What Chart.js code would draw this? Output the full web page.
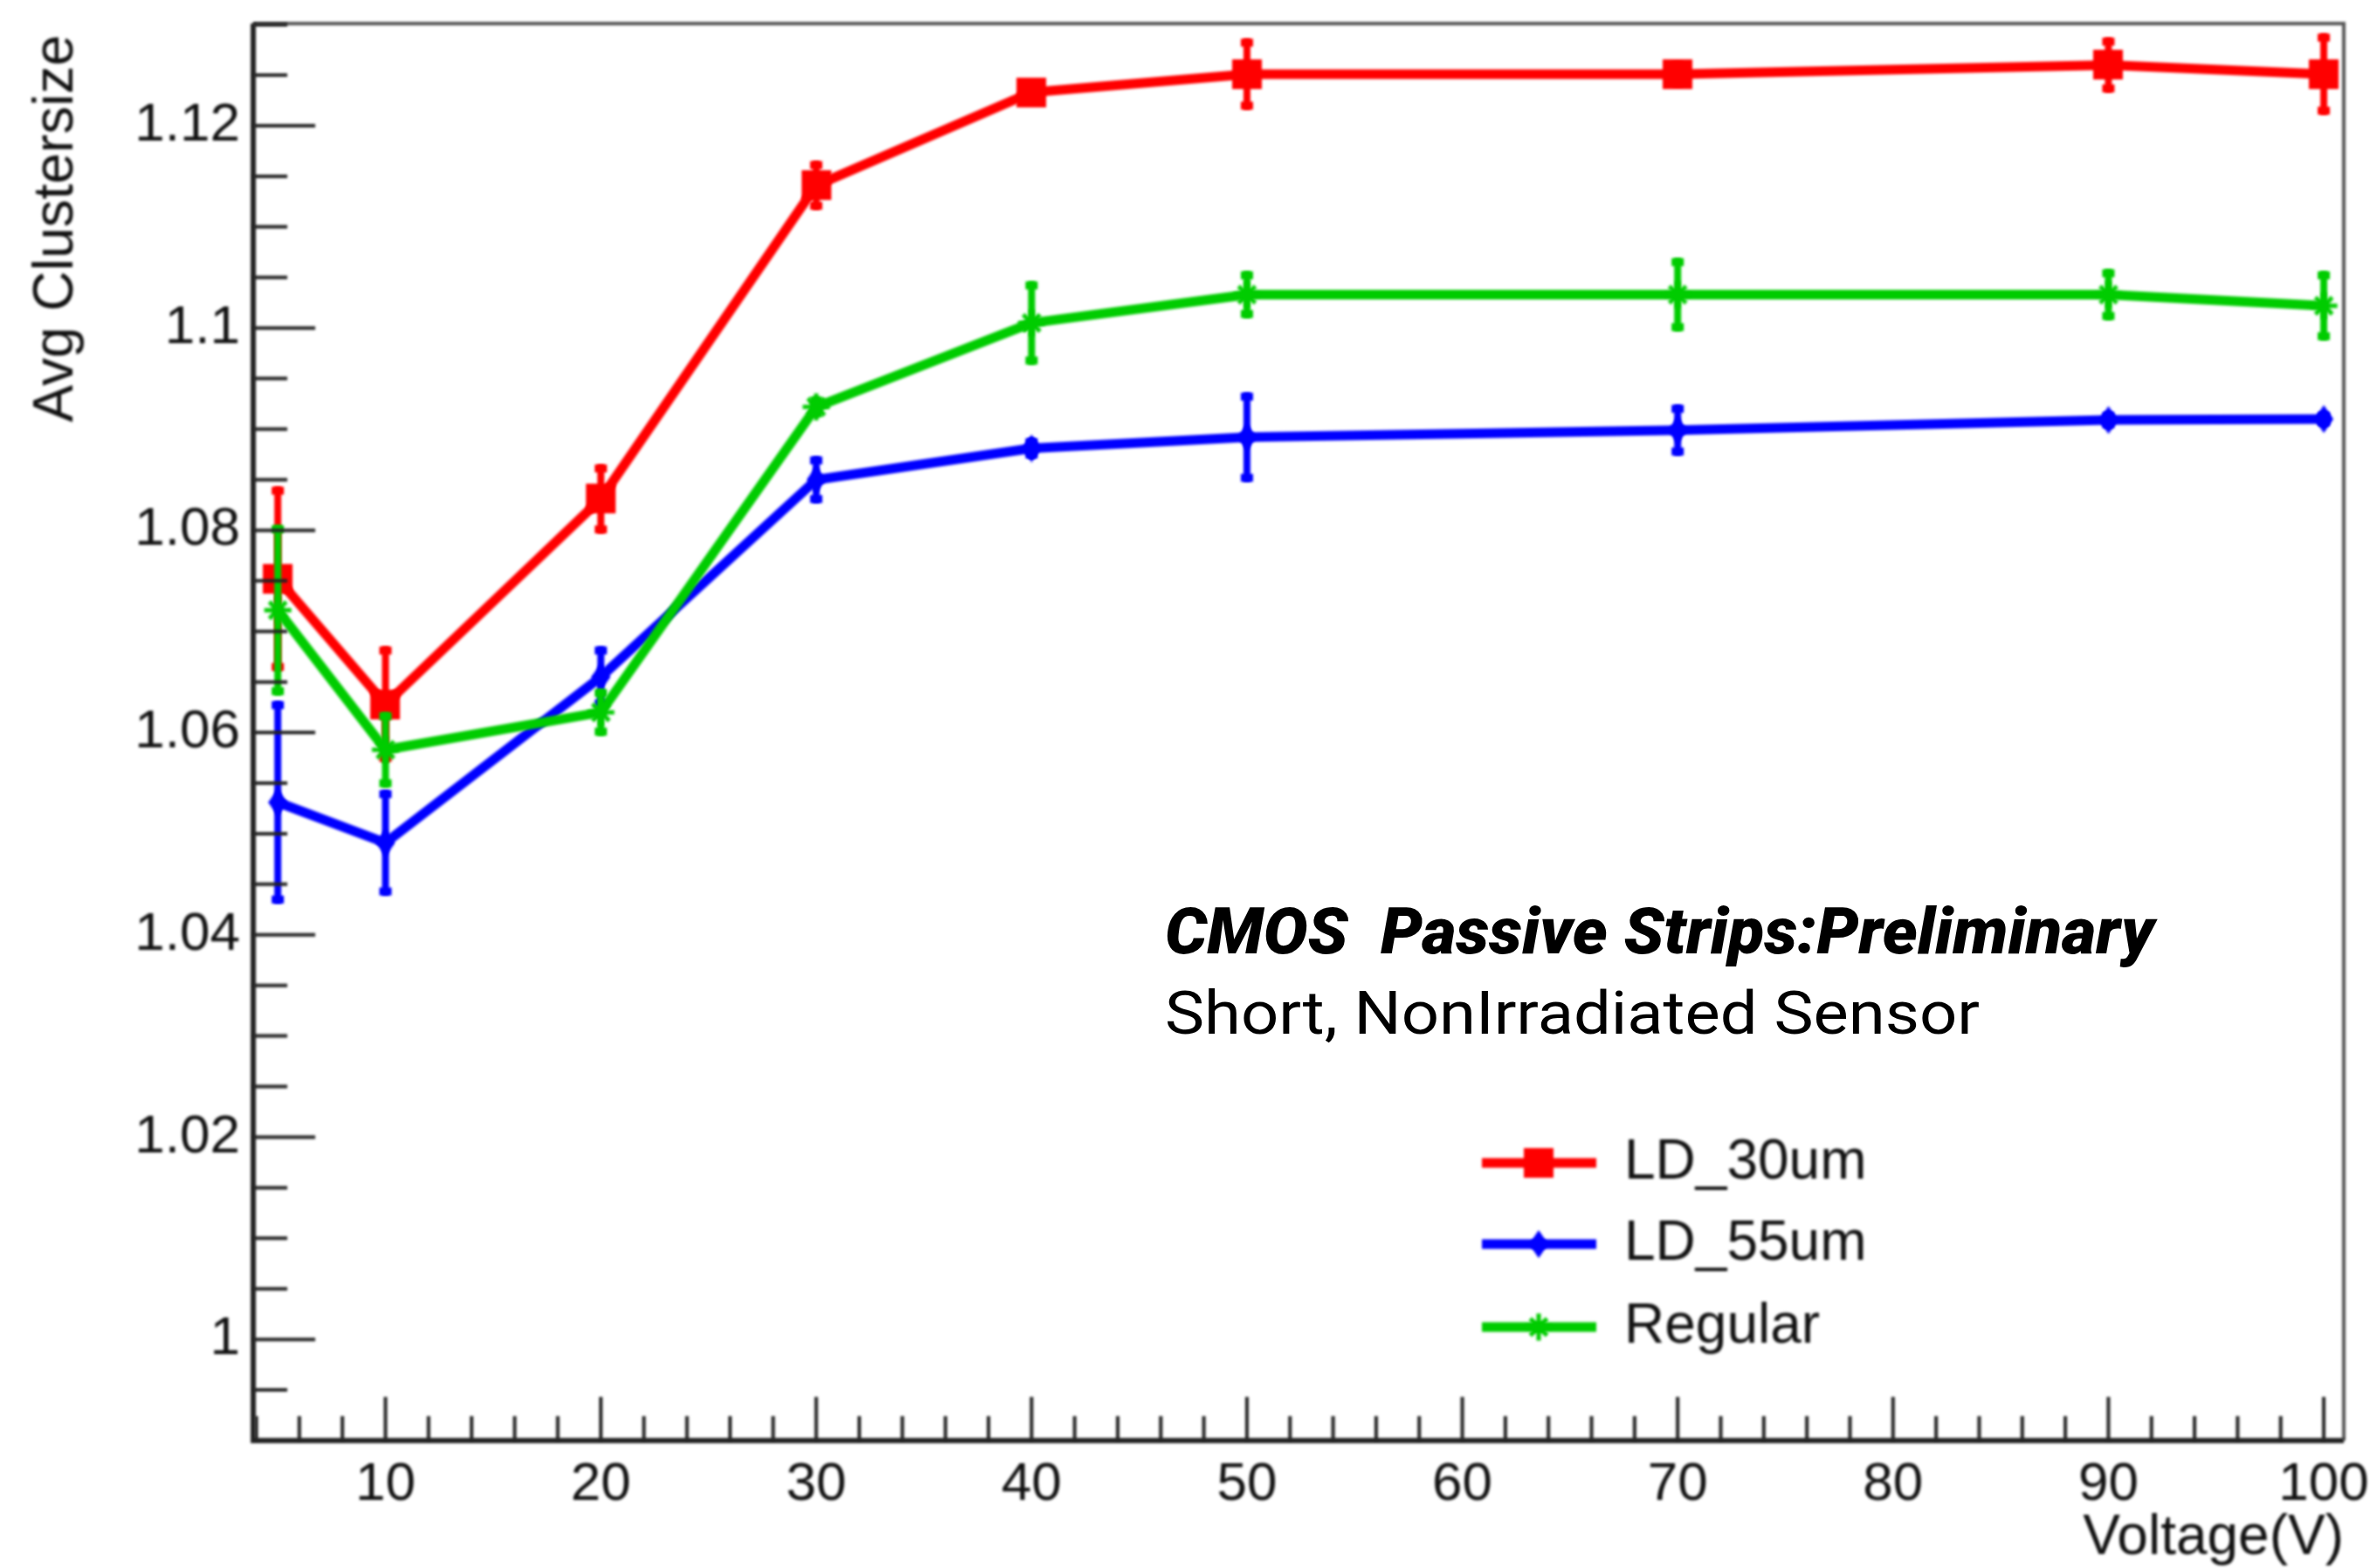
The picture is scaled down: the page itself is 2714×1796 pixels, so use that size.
<!DOCTYPE html>
<html>
<head>
<meta charset="utf-8">
<title>Avg Clustersize vs Voltage</title>
<script src="https://cdn.jsdelivr.net/npm/chart.js@4.4.1/dist/chart.umd.min.js"></script>
<style>
  html, body { margin: 0; padding: 0; background: #fff; }
  canvas { display: block; }
</style>
</head>
<body>
<canvas id="clusterChart" width="2714" height="1796"></canvas>
<script>
// bias voltage points (V)
const voltages = [5, 10, 20, 30, 40, 50, 70, 90, 100];

// average cluster size per sensor type, with symmetric errors
const ld30 = [1.0752, 1.0628, 1.0831, 1.1141, 1.1233, 1.1251, 1.1251, 1.1260, 1.1251];
const ld30Err = [0.0091, 0.0057, 0.0034, 0.0024, 0.0010, 0.0035, 0.0012, 0.0027, 0.0040];
const ld55 = [1.0531, 1.0491, 1.0655, 1.0850, 1.0881, 1.0892, 1.0899, 1.0909, 1.0910];
const ld55Err = [0.0100, 0.0052, 0.0030, 0.0023, 0.0010, 0.0044, 0.0025, 0.0008, 0.0007];
const regular = [1.0721, 1.0583, 1.0620, 1.0922, 1.1005, 1.1033, 1.1033, 1.1033, 1.1022];
const regularErr = [0.0084, 0.0037, 0.0023, 0.0010, 0.0041, 0.0023, 0.0036, 0.0025, 0.0034];

const seriesNames = ['LD_30um', 'LD_55um', 'Regular'];
const seriesColors = ['#ff0000', '#0000ff', '#00cc00'];

const xTicks = [10, 20, 30, 40, 50, 60, 70, 80, 90, 100];
const yTicks = [1, 1.02, 1.04, 1.06, 1.08, 1.1, 1.12];

const AXIS_FONT = '"Liberation Sans", Arial, sans-serif';

// marker images, roughly like the ROOT markers 21 / 33 / 3
function squareMarker(color, side) {
  const c = document.createElement('canvas');
  c.width = side; c.height = side;
  const g = c.getContext('2d');
  g.fillStyle = color;
  g.fillRect(0, 0, side, side);
  return c;
}

function diamondMarker(color, w, h) {
  const c = document.createElement('canvas');
  c.width = w; c.height = h;
  const g = c.getContext('2d');
  g.fillStyle = color;
  g.beginPath();
  g.moveTo(w / 2, 0);
  g.lineTo(w, h / 2);
  g.lineTo(w / 2, h);
  g.lineTo(0, h / 2);
  g.closePath();
  g.fill();
  return c;
}

function starMarker(color, size, lw) {
  const c = document.createElement('canvas');
  c.width = size; c.height = size;
  const g = c.getContext('2d');
  const m = size / 2, r = size / 2 - lw / 2;
  g.strokeStyle = color;
  g.lineWidth = lw;
  g.beginPath();
  g.moveTo(m, m - r); g.lineTo(m, m + r);
  g.moveTo(m - r, m); g.lineTo(m + r, m);
  const d = r * 0.62;
  g.moveTo(m - d, m - d); g.lineTo(m + d, m + d);
  g.moveTo(m - d, m + d); g.lineTo(m + d, m - d);
  g.stroke();
  return c;
}

const markers = [
  squareMarker(seriesColors[0], 34),
  diamondMarker(seriesColors[1], 22, 32),
  starMarker(seriesColors[2], 36, 5)
];

function toPoints(ys) {
  return voltages.map((v, i) => ({ x: v, y: ys[i] }));
}

function makeDataset(idx, values, errors, order) {
  return {
    label: seriesNames[idx],
    data: toPoints(values),
    yErr: errors,
    borderColor: seriesColors[idx],
    backgroundColor: seriesColors[idx],
    borderWidth: 11,
    borderJoinStyle: 'round',
    showLine: true,
    tension: 0,
    fill: false,
    pointStyle: markers[idx],
    pointRadius: 16,
    order: order
  };
}

// drop the extra room Chart.js keeps for overhanging edge labels
function fixAxisBox(scale, size) {
  if (scale.isHorizontal()) scale.height = size;
  else scale.width = size;
  scale.paddingLeft = 0;
  scale.paddingRight = 0;
  scale.paddingTop = 0;
  scale.paddingBottom = 0;
}

// ROOT-like frame, inward ticks, error bars, legend and texts
const rootStyle = {
  id: 'rootStyle',
  beforeDraw(chart) {
    chart.ctx.filter = 'blur(1.4px)';
  },
  beforeDatasetDraw(chart, args) {
    const ds = chart.data.datasets[args.index];
    if (!ds.yErr) return;
    const ctx = chart.ctx;
    const xs = chart.scales.x, ys = chart.scales.y;
    ctx.save();
    ctx.strokeStyle = ds.borderColor;
    ctx.fillStyle = ds.borderColor;
    ctx.lineWidth = 8;
    ds.data.forEach((p, i) => {
      const e = ds.yErr[i];
      const px = xs.getPixelForValue(p.x);
      const top = ys.getPixelForValue(p.y + e);
      const bot = ys.getPixelForValue(p.y - e);
      ctx.beginPath();
      ctx.moveTo(px, top);
      ctx.lineTo(px, bot);
      ctx.stroke();
      ctx.fillRect(px - 7, top, 14, 9);
      ctx.fillRect(px - 7, bot - 9, 14, 9);
    });
    ctx.restore();
  },
  afterDatasetsDraw(chart) {
    const ctx = chart.ctx;
    const a = chart.chartArea;
    const xs = chart.scales.x, ys = chart.scales.y;
    ctx.save();

    // frame
    ctx.strokeStyle = '#555';
    ctx.lineWidth = 4;
    ctx.beginPath();
    ctx.moveTo(a.left, a.top);
    ctx.lineTo(a.right, a.top);
    ctx.lineTo(a.right, a.bottom);
    ctx.stroke();
    ctx.strokeStyle = '#222';
    ctx.lineWidth = 6;
    ctx.beginPath();
    ctx.moveTo(a.left, a.top);
    ctx.lineTo(a.left, a.bottom);
    ctx.lineTo(a.right, a.bottom);
    ctx.stroke();

    // ticks pointing into the plot
    ctx.lineWidth = 4;
    ctx.beginPath();
    for (let v = 4; v <= 100.001; v += 2) {
      const px = xs.getPixelForValue(v);
      const len = xTicks.includes(Math.round(v)) ? 50 : 28;
      ctx.moveTo(px, a.bottom);
      ctx.lineTo(px, a.bottom - len);
    }
    for (let k = 199; k <= 226; k++) {
      const v = k * 0.005;
      const py = ys.getPixelForValue(v);
      const major = yTicks.some(t => Math.abs(t - v) < 1e-6);
      ctx.moveTo(a.left, py);
      ctx.lineTo(a.left + (major ? 71 : 39), py);
    }
    ctx.stroke();

    // axis titles
    ctx.fillStyle = '#111';
    ctx.font = '64px ' + AXIS_FONT;
    ctx.textBaseline = 'alphabetic';
    ctx.textAlign = 'right';
    ctx.fillText('Voltage(V)', a.right, 1780);
    ctx.save();
    ctx.translate(83, 40);
    ctx.rotate(-Math.PI / 2);
    ctx.fillText('Avg Clustersize', 0, 0);
    ctx.restore();

    // legend
    const rows = [1332, 1425, 1520];
    ctx.textAlign = 'left';
    chart.data.datasets.forEach((ds, i) => {
      const y = rows[i];
      ctx.strokeStyle = ds.borderColor;
      ctx.lineWidth = 11;
      ctx.beginPath();
      ctx.moveTo(1697, y);
      ctx.lineTo(1828, y);
      ctx.stroke();
      const m = ds.pointStyle;
      ctx.drawImage(m, 1762 - m.width / 2, y - m.height / 2);
      ctx.fillStyle = '#111';
      ctx.fillText(ds.label, 1860, y + 18);
    });
    ctx.restore();
  },
  afterDraw(chart) {
    const ctx = chart.ctx;
    ctx.filter = 'none';
    ctx.save();
    ctx.fillStyle = '#000';
    ctx.textAlign = 'left';
    ctx.textBaseline = 'alphabetic';
    const notes = [
      { text: 'CMOS  Passive Strips:Preliminary', font: 'italic 900 73px Roboto, sans-serif', y: 1092, width: 1133 },
      { text: 'Short, NonIrradiated Sensor', font: '400 68px Roboto, sans-serif', y: 1184, width: 933 }
    ];
    notes.forEach(n => {
      ctx.font = n.font;
      const w = ctx.measureText(n.text).width;
      ctx.save();
      ctx.translate(1334, n.y);
      ctx.scale(n.width / w, 1);
      ctx.fillText(n.text, 0, 0);
      ctx.restore();
    });
    ctx.restore();
  }
};

new Chart(document.getElementById('clusterChart'), {
  type: 'scatter',
  data: {
    datasets: [
      makeDataset(0, ld30, ld30Err, 3),
      makeDataset(1, ld55, ld55Err, 2),
      makeDataset(2, regular, regularErr, 1)
    ]
  },
  options: {
    responsive: false,
    animation: false,
    devicePixelRatio: 1,
    layout: { padding: { top: 21, right: 30, left: 0, bottom: 0 } },
    plugins: {
      legend: { display: false },
      tooltip: { enabled: false }
    },
    scales: {
      x: {
        type: 'linear',
        min: 3.86,
        max: 100.93,
        grid: { display: false, drawTicks: false, tickLength: 0 },
        border: { display: false },
        afterFit: (scale) => fixAxisBox(scale, 146),
        afterBuildTicks: (scale) => { scale.ticks = xTicks.map(v => ({ value: v })); },
        ticks: {
          autoSkip: false,
          maxRotation: 0,
          padding: 14,
          color: '#111',
          font: { family: AXIS_FONT, size: 62 },
          callback: (v) => String(v)
        }
      },
      y: {
        type: 'linear',
        min: 0.99,
        max: 1.1301,
        grid: { display: false, drawTicks: false, tickLength: 0 },
        border: { display: false },
        afterFit: (scale) => fixAxisBox(scale, 290),
        afterBuildTicks: (scale) => { scale.ticks = yTicks.map(v => ({ value: v })); },
        ticks: {
          autoSkip: false,
          padding: 15,
          color: '#111',
          font: { family: AXIS_FONT, size: 62 },
          callback: (v) => String(parseFloat(v.toFixed(3)))
        }
      }
    }
  },
  plugins: [rootStyle]
});
</script>
</body>
</html>
